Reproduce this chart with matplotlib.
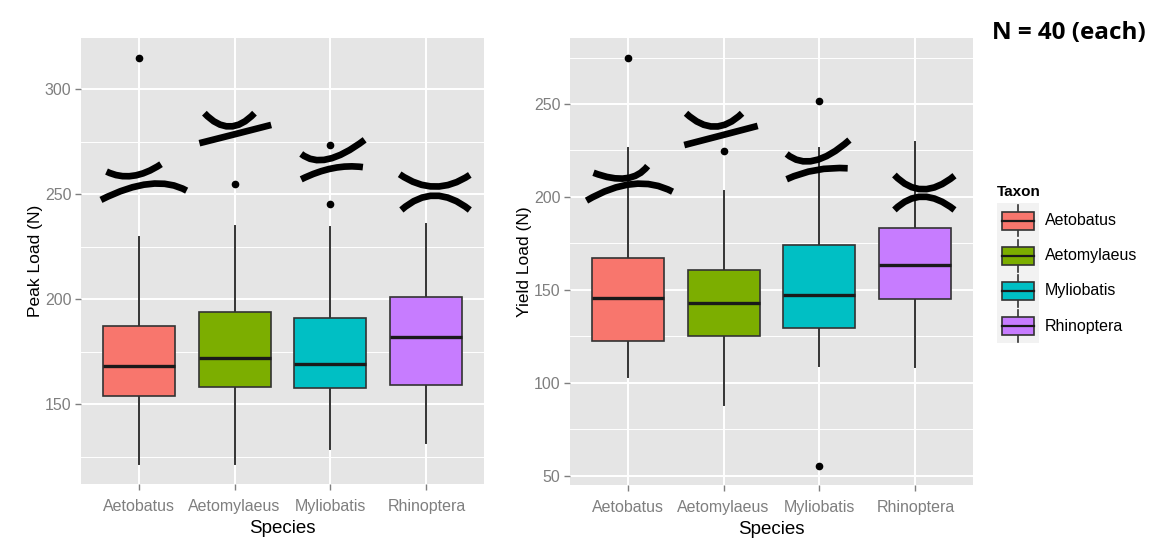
import numpy as np
import matplotlib.pyplot as plt
from matplotlib.path import Path
from matplotlib.patches import PathPatch, Rectangle, Patch
from matplotlib.lines import Line2D
from matplotlib.legend_handler import HandlerBase

plt.rcParams['font.family'] = ['Liberation Sans', 'DejaVu Sans']

species = ['Aetobatus', 'Aetomylaeus', 'Myliobatis', 'Rhinoptera']
colors = ['#F8766D', '#7CAE00', '#00BFC4', '#C77CFF']

# Peak load (N): box summaries per species
peak_lo = [121.4, 121.4, 128.6, 131.4]
peak_q1 = [154.1, 158.4, 157.6, 159.2]
peak_med = [168.2, 171.9, 169.0, 181.9]
peak_q3 = [187.3, 193.8, 190.9, 201.0]
peak_hi = [229.5, 235.0, 234.6, 235.9]
peak_out = [[314.9], [254.8], [273.6, 245.2], []]

# Yield load (N)
yield_lo = [102.9, 88.0, 109.2, 108.7]
yield_q1 = [122.6, 125.2, 129.3, 144.9]
yield_med = [145.5, 143.1, 147.2, 163.4]
yield_q3 = [167.0, 160.5, 174.1, 183.1]
yield_hi = [226.2, 203.2, 226.5, 229.4]
yield_out = [[274.8], [224.9], [251.8, 55.1], []]

# hand-drawn group markers above each box: (start, control, end) in data units
peak_marks = [
    [(0.666, 260.8), (0.926, 254.9), (1.234, 264.3)],
    [(0.608, 247.3), (1.169, 260.3), (1.501, 251.7)],
    [(1.686, 288.6), (1.947, 275.9), (2.208, 288.6)],
    [(1.634, 274.3), (2.008, 278.6), (2.382, 283.0)],
    [(2.695, 269.2), (2.921, 260.8), (3.356, 275.9)],
    [(2.695, 257.1), (3.034, 264.8), (3.338, 262.9)],
    [(3.721, 259.5), (4.087, 247.9), (4.452, 259.2)],
    [(3.739, 242.5), (4.078, 256.2), (4.452, 242.5)],
]
yield_marks = [
    [(0.645, 213.0), (1.039, 205.2), (1.209, 216.6)],
    [(0.572, 198.0), (1.083, 213.5), (1.469, 202.8)],
    [(1.609, 245.0), (1.907, 230.6), (2.193, 245.0)],
    [(1.591, 227.9), (1.974, 233.0), (2.356, 238.2)],
    [(2.658, 223.1), (2.908, 212.2), (3.312, 230.6)],
    [(2.658, 209.5), (2.952, 216.5), (3.294, 215.4)],
    [(3.781, 211.8), (4.059, 196.6), (4.407, 211.4)],
    [(3.781, 193.0), (4.059, 207.3), (4.407, 193.0)],
]

TICK_GREY = '#7F7F7F'


def style_panel(ax, ylim, major, minor, ylabel):
    ax.set_facecolor('#E5E5E5')
    for s in ax.spines.values():
        s.set_visible(False)
    ax.set_xlim(0.4, 4.6)
    ax.set_ylim(*ylim)
    ax.set_xticks(range(1, 5))
    ax.set_xticklabels(species)
    ax.set_yticks(major)
    ax.set_yticks(minor, minor=True)
    ax.grid(which='major', color='white', lw=1.4)
    ax.grid(which='minor', axis='y', color='white', lw=0.7)
    ax.set_axisbelow(True)
    ax.tick_params(which='major', length=4, width=1, color=TICK_GREY,
                   labelcolor=TICK_GREY, labelsize=11.5)
    ax.tick_params(axis='x', pad=7)
    ax.tick_params(axis='y', pad=3)
    ax.tick_params(which='minor', length=0)
    ax.set_xlabel('Species', fontsize=13.5, labelpad=4)
    ax.set_ylabel(ylabel, fontsize=12.5, labelpad=1)


def draw_boxes(ax, lo, q1, med, q3, hi, out):
    stats = []
    for i in range(len(species)):
        stats.append(dict(whislo=lo[i], q1=q1[i], med=med[i], q3=q3[i],
                          whishi=hi[i], fliers=out[i]))
    bp = ax.bxp(stats, positions=range(1, 5), widths=0.75, patch_artist=True,
                showcaps=False, manage_ticks=False,
                boxprops=dict(edgecolor='#333333', lw=1.2),
                whiskerprops=dict(color='#333333', lw=1.4),
                medianprops=dict(color='#1A1A1A', lw=2.4),
                flierprops=dict(marker='o', markerfacecolor='black',
                                markeredgecolor='black', markersize=4.5))
    for box, c in zip(bp['boxes'], colors):
        box.set_facecolor(c)
    for w in bp['whiskers']:
        w.set_zorder(1.5)


def draw_marks(ax, marks):
    for p0, c, p2 in marks:
        path = Path([p0, c, p2], [Path.MOVETO, Path.CURVE3, Path.CURVE3])
        ax.add_patch(PathPatch(path, fill=False, edgecolor='black', lw=4.8,
                               capstyle='butt', zorder=5))


class BoxKey(HandlerBase):
    def create_artists(self, legend, orig_handle, xdescent, ydescent,
                       width, height, fontsize, trans):
        x0, y0 = -xdescent, -ydescent
        bg = Rectangle((x0, y0), width, height, facecolor='#F2F2F2',
                       edgecolor='none', transform=trans)
        cx = x0 + width / 2
        wl = Line2D([cx, cx], [y0 + height * 0.05, y0 + height * 0.95],
                    color='#333333', lw=1.2, transform=trans)
        box = Rectangle((x0 + width * 0.12, y0 + height * 0.24),
                        width * 0.76, height * 0.52,
                        facecolor=orig_handle.get_facecolor(),
                        edgecolor='#333333', lw=1.2, transform=trans)
        md = Line2D([x0 + width * 0.12, x0 + width * 0.88],
                    [y0 + height * 0.5] * 2, color='#1A1A1A', lw=1.6,
                    transform=trans)
        return [bg, wl, box, md]


fig = plt.figure(figsize=(11.51, 5.5), dpi=100)
ax1 = fig.add_axes([81 / 1151, 66 / 550, 403 / 1151, 446 / 550])
ax2 = fig.add_axes([570 / 1151, 65 / 550, 403 / 1151, 447 / 550])

style_panel(ax1, (112.0, 324.4), [150, 200, 250, 300], [125, 175, 225, 275],
            'Peak Load (N)')
draw_boxes(ax1, peak_lo, peak_q1, peak_med, peak_q3, peak_hi, peak_out)
draw_marks(ax1, peak_marks)

style_panel(ax2, (45.0, 285.5), [50, 100, 150, 200, 250],
            [75, 125, 175, 225, 275], 'Yield Load (N)')
draw_boxes(ax2, yield_lo, yield_q1, yield_med, yield_q3, yield_hi, yield_out)
draw_marks(ax2, yield_marks)

handles = [Patch(facecolor=c) for c in colors]
leg = fig.legend(handles, species, title='Taxon', loc='upper left',
                 bbox_to_anchor=(997 / 1151, 1 - 185 / 550), frameon=False,
                 handler_map={Patch: BoxKey()}, handlelength=2.6,
                 handleheight=3.0, labelspacing=0.0, handletextpad=0.4,
                 borderpad=0, borderaxespad=0, fontsize=11.5,
                 alignment='left',
                 title_fontproperties={'weight': 'bold', 'size': 11})
# a little more room between the legend title and the keys
leg._legend_box.sep = 3

fig.text(1146 / 1151, 1 - 33 / 550, 'N = 40 (each)', ha='right', va='center',
         fontsize=17.5, fontweight='bold', family=['Open Sans', 'DejaVu Sans'])

fig.savefig('out.png', dpi=100, facecolor='white')
